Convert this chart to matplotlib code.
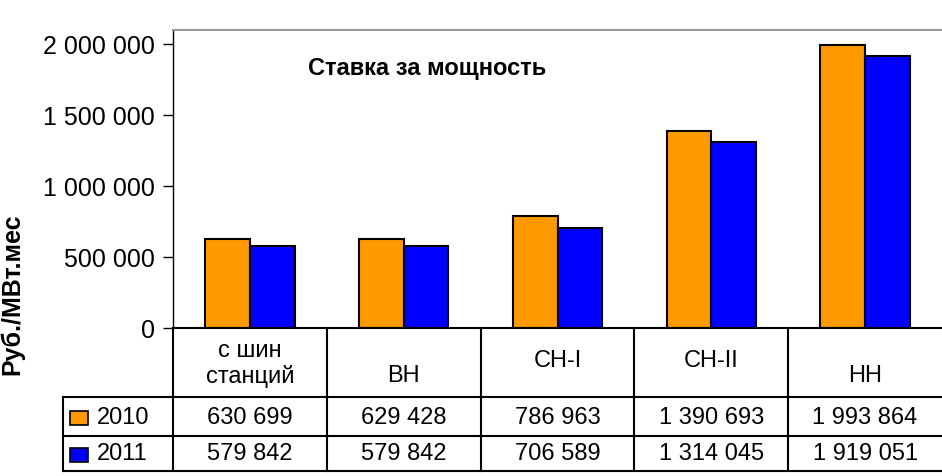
import numpy as np
import matplotlib.pyplot as plt
from matplotlib.ticker import FuncFormatter

plt.rcParams['font.family'] = ['Liberation Sans', 'DejaVu Sans']

categories = ["с шин\nстанций", "ВН", "СН-I", "СН-II", "НН"]
years = ["2010", "2011"]
values_2010 = [630699, 629428, 786963, 1390693, 1993864]
values_2011 = [579842, 579842, 706589, 1314045, 1919051]
colors = ["#FF9900", "#0000FF"]

W, H = 942, 476
fig = plt.figure(figsize=(W / 100, H / 100), dpi=100)

def px_axes(x0, y0, x1, y1):
    # pixel box (top-left origin) -> figure axes
    return fig.add_axes([x0 / W, 1 - y1 / H, (x1 - x0) / W, (y1 - y0) / H])

# ---- bar area
ax = px_axes(173, 30, 942, 328)
x = np.arange(len(categories)) + 0.5
bw = 0.29
for vals, c, off in [(values_2010, colors[0], -bw / 2), (values_2011, colors[1], bw / 2)]:
    ax.bar(x + off, vals, bw, color=c, edgecolor="black", linewidth=1.5, zorder=3)

ax.set_xlim(0, len(categories))
ax.set_ylim(0, 2100000)
ax.set_yticks(np.arange(0, 2000001, 500000))
ax.yaxis.set_major_formatter(FuncFormatter(lambda v, p: f"{v:,.0f}".replace(",", " ")))
ax.tick_params(axis="y", labelsize=18, length=7, width=1, pad=6)
ax.set_xticks([])
ax.spines["right"].set_visible(False)
ax.spines["bottom"].set_visible(False)
ax.spines["top"].set_color("#999999")
ax.spines["top"].set_linewidth(1.5)
ax.spines["left"].set_linewidth(1)

ax.text(0.33, 0.87, "Ставка за мощность", transform=ax.transAxes,
        ha="center", va="center", fontsize=17, fontweight="bold")

fig.text(12 / W, 1 - 294 / H, "Руб./МВт.мес", rotation=90, ha="center", va="center",
         fontsize=18, fontweight="bold")

# ---- data table
tx = px_axes(63, 328, 942, 471)
tx.set_xlim(63, 942)
tx.set_ylim(471, 328)
tx.axis("off")
col0 = 173
cw = (942 - 173) / len(categories)
row_y = [328, 397, 436, 471]
lw = 1.5
# horizontal lines
tx.plot([col0, 942], [row_y[0]] * 2, color="black", lw=lw, clip_on=False)
for yy in row_y[1:]:
    tx.plot([63, 942], [yy, yy], color="black", lw=lw, clip_on=False)
# vertical lines
tx.plot([63, 63], [row_y[1], row_y[3]], color="black", lw=lw, clip_on=False)
for i in range(len(categories)):
    xx = col0 + i * cw
    tx.plot([xx, xx], [row_y[0], row_y[3]], color="black", lw=lw, clip_on=False)

header_y = [364, 376, 361, 361, 376]
for i, (lab, hy) in enumerate(zip(categories, header_y)):
    tx.text(col0 + (i + 0.5) * cw, hy, lab, ha="center", va="center", fontsize=17,
            linespacing=1.15)

for r, (yr, vals, c) in enumerate(zip(years, [values_2010, values_2011], colors)):
    yc = (row_y[r + 1] + row_y[r + 2]) / 2 + 1
    tx.add_patch(plt.Rectangle((70, yc - 7), 18, 14, facecolor=c, edgecolor="black",
                               lw=1.2, clip_on=False))
    tx.text(97, yc, yr, ha="left", va="center", fontsize=17)
    for i, v in enumerate(vals):
        tx.text(col0 + (i + 0.5) * cw, yc, f"{v:,}".replace(",", " "),
                ha="center", va="center", fontsize=17)

fig.savefig("out.png", dpi=100)
